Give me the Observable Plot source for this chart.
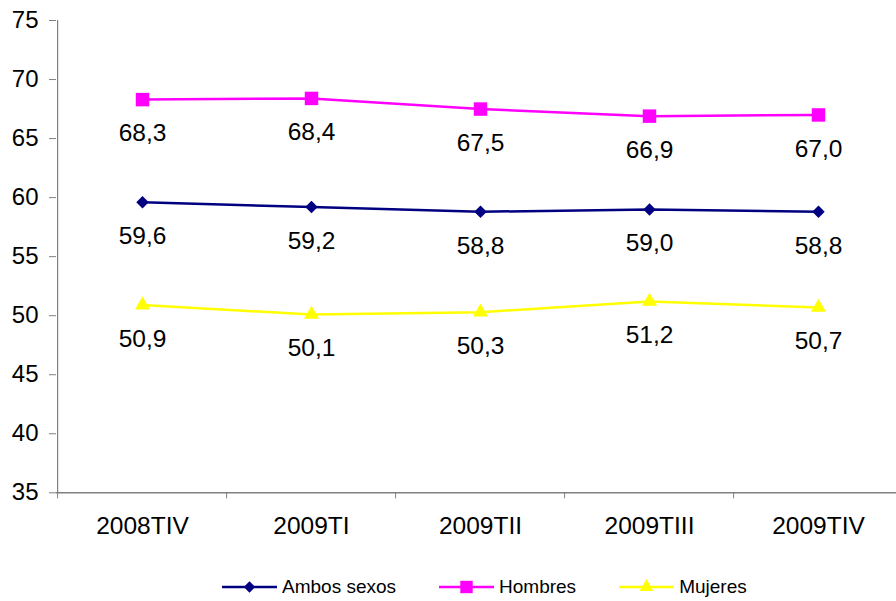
<!DOCTYPE html>
<html>
<head>
<meta charset="utf-8">
<script src="https://cdn.jsdelivr.net/npm/d3@7"></script>
<script src="https://cdn.jsdelivr.net/npm/@observablehq/plot@0.6"></script>
<style>
  html, body { margin: 0; padding: 0; background: #fff; }
  body { width: 896px; height: 601px; position: relative; overflow: hidden; font-family: "Liberation Sans", Arial, sans-serif; }
  #legend { position: absolute; left: 222px; top: 576px; display: flex; align-items: center; gap: 43px; font-size: 19px; color: #000; }
  .item { display: flex; align-items: center; gap: 5px; }
  .item svg { display: block; }
</style>
</head>
<body>
<div id="chart"></div>
<div id="legend"></div>
<script>
const categories = ["2008TIV", "2009TI", "2009TII", "2009TIII", "2009TIV"];
const ambosSexos = [59.6, 59.2, 58.8, 59.0, 58.8];
const hombres = [68.3, 68.4, 67.5, 66.9, 67.0];
const mujeres = [50.9, 50.1, 50.3, 51.2, 50.7];
const seriesNames = ["Ambos sexos", "Hombres", "Mujeres"];
const seriesColors = ["#000080", "#FF00FF", "#FFFF00"];
const seriesSymbols = ["diamond2", "square", "triangle"];
const seriesR = [5.6, 7.6, 5.6];
const yTicks = [35, 40, 45, 50, 55, 60, 65, 70, 75];

const seriesValues = [ambosSexos, hombres, mujeres];
const data = [];
seriesNames.forEach((s, si) => {
  categories.forEach((c, i) => {
    data.push({series: s, cat: c, value: seriesValues[si][i], r: seriesR[si]});
  });
});
const fmt = v => v.toFixed(1).replace(".", ",");

const chart = Plot.plot({
  width: 896,
  height: 560,
  marginLeft: 56,
  marginRight: 0,
  marginTop: 20,
  marginBottom: 67.7,
  style: {fontFamily: "Liberation Sans, Arial, sans-serif", background: "#fff", color: "#000"},
  x: {type: "point", domain: categories, range: [140.3, 819.3], padding: 0},
  y: {domain: [35, 75]},
  color: {domain: seriesNames, range: seriesColors},
  symbol: {domain: seriesNames, range: seriesSymbols},
  r: {type: "identity"},
  marks: [
    // y axis line
    Plot.ruleX([categories[0]], {x: d => d, dx: -84.9, y1: 35, y2: 75, stroke: "#808080", strokeWidth: 1.2}),
    // x axis line
    Plot.ruleY([35], {stroke: "#808080", strokeWidth: 1.5}),
    // x ticks between categories
    Plot.ruleX(categories, {x: d => d, dx: -84.9, y1: 35, y2: 35 - 6 / 11.8, stroke: "#808080", strokeWidth: 1}),
    Plot.axisY({ticks: yTicks, tickSize: 7, tickPadding: 11, fontSize: 24, stroke: "#808080", label: null, tickFormat: d => String(d)}),
    Plot.axisX({tickSize: 0, tickPadding: 24, fontSize: 24.5, label: null}),
    Plot.line(data, {x: "cat", y: "value", z: "series", stroke: "series", strokeWidth: 2.5}),
    Plot.dot(data, {x: "cat", y: "value", symbol: "series", fill: "series", r: "r", stroke: "none"}),
    Plot.text(data, {x: "cat", y: "value", text: d => fmt(d.value), dy: 34, fontSize: 24.5, fill: "#000"})
  ]
});
document.getElementById("chart").appendChild(chart);

// Legend
const legend = d3.select("#legend");
seriesNames.forEach((s, i) => {
  const item = legend.append("div").attr("class", "item");
  const svg = item.append("svg").attr("width", 55).attr("height", 20);
  svg.append("line").attr("x1", 0).attr("x2", 55).attr("y1", 10).attr("y2", 10)
    .attr("stroke", seriesColors[i]).attr("stroke-width", 2.5);
  const symMap = {diamond2: d3.symbolDiamond2, square: d3.symbolSquare, triangle: d3.symbolTriangle};
  svg.append("path").attr("transform", "translate(27.5,10)")
    .attr("d", d3.symbol(symMap[seriesSymbols[i]], Math.PI * seriesR[i] * seriesR[i] * 0.85)())
    .attr("fill", seriesColors[i]);
  item.append("span").text(s);
});
</script>
</body>
</html>
